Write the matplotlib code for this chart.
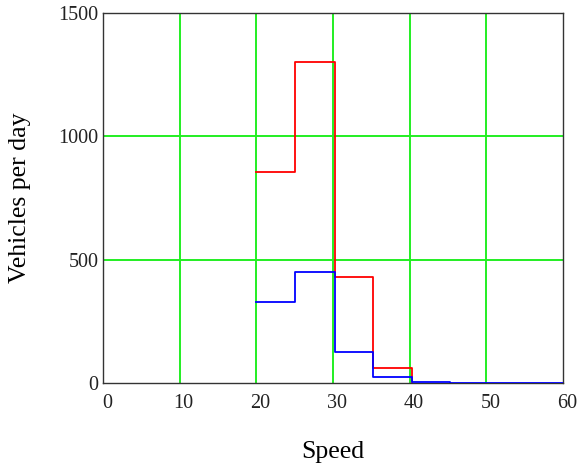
import matplotlib.pyplot as plt
import matplotlib.transforms as mtransforms

# bin edges (speed) and vehicle counts per bin
red_edges = [20, 25, 30.25, 35.25, 40.25]
red_counts = [855, 1300, 430, 60, 0]

blue_edges = [20, 25, 30.25, 35.25, 40.25, 45.25, 60]
blue_counts = [330, 450, 125, 25, 6, 0, 0]

x_ticks = [0, 10, 20, 30, 40, 50, 60]
y_ticks = [0, 500, 1000, 1500]

plt.rcParams["font.family"] = ["Liberation Serif", "DejaVu Serif"]

fig = plt.figure(figsize=(5.78, 4.69), dpi=100)
ax = fig.add_axes([0.178, 0.183, 0.796, 0.789])

ax.step(red_edges, red_counts, where="post", color="red", linewidth=1.3, zorder=3)
ax.step(blue_edges, blue_counts, where="post", color="blue", linewidth=1.3, zorder=3)

ax.set_xlim(0, 60)
ax.set_ylim(0, 1500)
ax.set_xticks(x_ticks)
ax.set_yticks(y_ticks)

# green grid, only inside the box
ax.grid(True, color="#22ee22", linewidth=1.4)
ax.set_axisbelow(True)
for i, g in enumerate(ax.xaxis.get_gridlines()):
    if x_ticks[i] in (0, 60):
        g.set_visible(False)
for i, g in enumerate(ax.yaxis.get_gridlines()):
    if y_ticks[i] in (0, 1500):
        g.set_visible(False)

ax.tick_params(length=0, labelsize=14.5, colors="#222222")
ax.tick_params(axis="x", pad=8)
ax.tick_params(axis="y", pad=3)

# x tick labels sit a little to the right of their grid lines
shift = mtransforms.ScaledTranslation(4 / 100, 0, fig.dpi_scale_trans)
for lbl in ax.get_xticklabels():
    lbl.set_transform(lbl.get_transform() + shift)

for s in ax.spines.values():
    s.set_color("#333333")
    s.set_linewidth(1.0)
    s.set_zorder(2.6)

ax.set_xlabel("Speed", fontsize=18.5, labelpad=20)
ax.set_ylabel("Vehicles per day", fontsize=18.5, labelpad=20)

fig.savefig("out.png", dpi=100)
